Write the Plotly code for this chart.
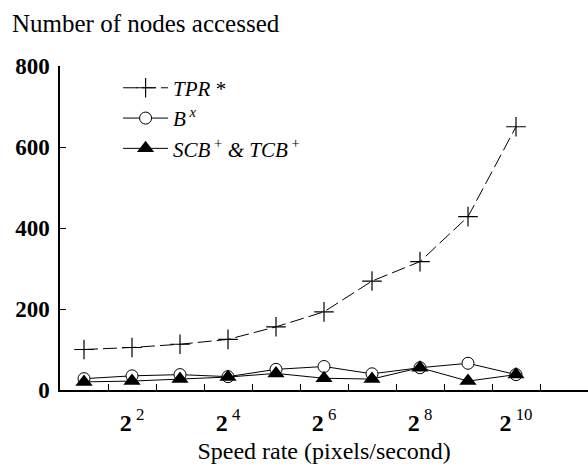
import plotly.graph_objects as go

x_pos = [1, 2, 3, 4, 5, 6, 7, 8, 9, 10]
tpr = [100, 105, 113, 125, 156, 193, 269, 317, 428, 650]
bx = [28, 35, 38, 33, 51, 58, 40, 55, 66, 38]
scb = [20, 22, 27, 32, 41, 29, 27, 55, 22, 38]

x_tickvals = [2, 4, 6, 8, 10]
x_ticktext = ["<b>2</b><sup> 2</sup>", "<b>2</b><sup> 4</sup>", "<b>2</b><sup> 6</sup>",
              "<b>2</b><sup> 8</sup>", "<b>2</b><sup> 10</sup>"]
x_minor = [1.5, 2.5, 3.5, 4.5, 5.5, 6.5, 7.5, 8.5, 9.5, 10.5, 11.5]
y_tickvals = [0, 200, 400, 600, 800]
y_ticktext = ["<b>0</b>", "<b>200</b>", "<b>400</b>", "<b>600</b>", "<b>800</b>"]

names = ["<i>TPR</i> *", "<i>B</i><sup> <i>x</i></sup>",
         "<i>SCB</i><sup> +</sup> <i>&amp; TCB</i><sup> +</sup>"]

FONT = "Liberation Serif"

fig = go.Figure()
fig.add_trace(go.Scatter(
    x=x_pos, y=tpr, name=names[0], mode="lines+markers",
    line=dict(color="black", width=1, dash="14px,5px"),
    marker=dict(symbol="cross-thin-open", size=14, color="black",
                line=dict(color="black", width=1.2)),
))
fig.add_trace(go.Scatter(
    x=x_pos, y=bx, name=names[1], mode="lines+markers",
    line=dict(color="black", width=1),
    marker=dict(symbol="circle", size=12, color="white",
                line=dict(color="black", width=1)),
))
fig.add_trace(go.Scatter(
    x=x_pos, y=scb, name=names[2], mode="lines+markers",
    line=dict(color="black", width=1),
    marker=dict(symbol="triangle-up", size=15, color="black",
                line=dict(color="black", width=0)),
))

fig.update_layout(
    width=588, height=470,
    margin=dict(l=60, r=0, t=66, b=80),
    paper_bgcolor="white", plot_bgcolor="white",
    font=dict(family=FONT, size=20, color="black"),
    showlegend=True,
    legend=dict(x=0.11, y=0.995, xanchor="left", yanchor="top",
                font=dict(family=FONT, size=21, color="black"),
                bgcolor="rgba(0,0,0,0)", tracegroupgap=0,
                itemwidth=45),
    title=dict(text="Number of nodes accessed", xref="container", yref="container",
               x=12 / 588, y=1 - 23 / 470, xanchor="left", yanchor="middle",
               font=dict(family=FONT, size=25, color="black")),
    xaxis=dict(range=[0.5, 11.5], showline=True, linecolor="black", linewidth=1.5,
               showgrid=False, zeroline=False,
               tickmode="array", tickvals=x_tickvals, ticktext=x_ticktext,
               ticks="", ticklabelstandoff=10,
               tickfont=dict(family=FONT, size=24, color="black"),
               minor=dict(tickmode="array", tickvals=x_minor, ticks="inside",
                          ticklen=6, tickcolor="black", tickwidth=1, showgrid=False),
               title=dict(text="Speed rate (pixels/second)", standoff=8,
                          font=dict(family=FONT, size=24, color="black"))),
    yaxis=dict(range=[0, 800], showline=True, linecolor="black", linewidth=1.5,
               showgrid=False, zeroline=False,
               tickmode="array", tickvals=y_tickvals, ticktext=y_ticktext,
               ticks="inside", ticklen=6, tickcolor="black", tickwidth=1,
               ticklabelstandoff=4,
               tickfont=dict(family=FONT, size=23, color="black")),
)

fig.write_html("out.html")
